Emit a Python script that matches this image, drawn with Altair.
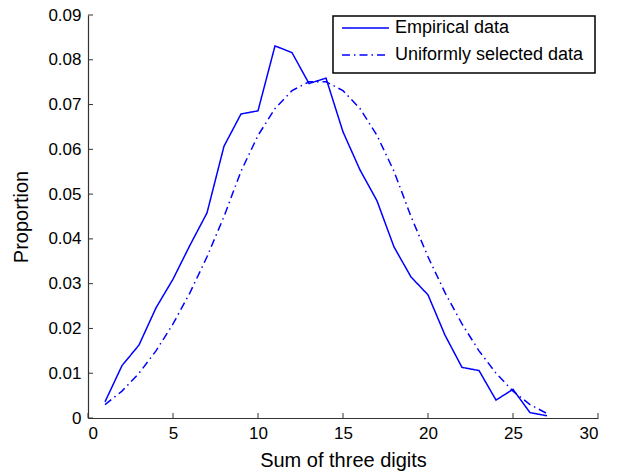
import altair as alt
import pandas as pd

# Sum of the three digits (1..27)
sums = list(range(1, 28))

# Observed proportions of each digit sum
empirical = [0.0036, 0.0117, 0.0163, 0.0246, 0.0310, 0.0386, 0.0458, 0.0607,
             0.0679, 0.0686, 0.0831, 0.0816, 0.0747, 0.0759, 0.0639, 0.0554,
             0.0485, 0.0382, 0.0315, 0.0275, 0.0185, 0.0113, 0.0106, 0.0040,
             0.0064, 0.0012, 0.0005]

# Proportions expected when the three digits are drawn uniformly
uniform = [0.0030, 0.0060, 0.0100, 0.0150, 0.0210, 0.0280, 0.0360, 0.0450,
           0.0551, 0.0631, 0.0691, 0.0731, 0.0751, 0.0751, 0.0731, 0.0691,
           0.0631, 0.0551, 0.0450, 0.0360, 0.0280, 0.0210, 0.0150, 0.0100,
           0.0060, 0.0030, 0.0010]

series_names = ["Empirical data", "Uniformly selected data"]
x_ticks = [0, 5, 10, 15, 20, 25, 30]
y_ticks = [0, 0.01, 0.02, 0.03, 0.04, 0.05, 0.06, 0.07, 0.08, 0.09]

df = pd.DataFrame({
    "sum": sums * 2,
    "proportion": empirical + uniform,
    "series": [series_names[0]] * len(sums) + [series_names[1]] * len(sums),
})

FONT = "Liberation Sans"
BLUE = "#0000ff"
AXIS_COLOR = "#333333"
W, H = 510, 403
DASHES = [[1, 0], [8, 4, 1.5, 4]]

x_scale = alt.Scale(domain=[0, 30], nice=False)
y_scale = alt.Scale(domain=[0, 0.09], nice=False)

lines = alt.Chart(df).mark_line(strokeWidth=1.5, color=BLUE).encode(
    x=alt.X("sum:Q", scale=x_scale,
            axis=alt.Axis(values=x_ticks, title="Sum of three digits", ticks=False,
                          grid=False, labelPadding=7, titlePadding=9)),
    y=alt.Y("proportion:Q", scale=y_scale,
            axis=alt.Axis(values=y_ticks, format="~f", title="Proportion", ticks=False,
                          grid=False, labelPadding=7, titlePadding=16)),
    strokeDash=alt.StrokeDash(
        "series:N",
        scale=alt.Scale(domain=series_names, range=DASHES),
        legend=None,
    ),
)

# Inward-pointing tick marks on both axes
xt = alt.Chart(pd.DataFrame({"t": x_ticks})).mark_rule(
    color=AXIS_COLOR, strokeWidth=1
).encode(x=alt.X("t:Q", scale=x_scale), y=alt.value(H), y2=alt.value(H - 5))

yt = alt.Chart(pd.DataFrame({"t": y_ticks})).mark_rule(
    color=AXIS_COLOR, strokeWidth=1
).encode(y=alt.Y("t:Q", scale=y_scale), x=alt.value(0), x2=alt.value(5))

# Boxed legend in the upper right corner
LX0, LX1, LY0, LY1 = 245, 507, 1, 58
ROW_Y = [13, 40]
legend_box = alt.Chart(pd.DataFrame({"k": [0]})).mark_rect(
    fill="white", stroke="black", strokeWidth=1.5
).encode(x=alt.value(LX0), x2=alt.value(LX1), y=alt.value(LY0), y2=alt.value(LY1))

legend_layers = [legend_box]
for name, dash, ry in zip(series_names, DASHES, ROW_Y):
    legend_layers.append(
        alt.Chart(pd.DataFrame({"k": [0]})).mark_rule(
            color=BLUE, strokeWidth=1.5, strokeDash=dash
        ).encode(x=alt.value(LX0 + 9), x2=alt.value(LX0 + 56), y=alt.value(ry))
    )
    legend_layers.append(
        alt.Chart(pd.DataFrame({"k": [0]})).mark_text(
            align="left", baseline="middle", font=FONT, fontSize=18, color="black"
        ).encode(x=alt.value(LX0 + 62), y=alt.value(ry), text=alt.value(name))
    )

chart = alt.layer(lines, xt, yt, *legend_layers).properties(
    width=W, height=H,
    autosize=alt.AutoSizeParams(type="none"),
    padding={"left": 88, "top": 15, "right": 19, "bottom": 57},
).configure_view(stroke=None).configure_axis(
    domainColor=AXIS_COLOR, domainWidth=1.2,
    labelFont=FONT, labelFontSize=17, labelColor="black",
    titleFont=FONT, titleFontSize=20, titleColor="black", titleFontWeight="normal",
)

chart.save("out.html", embed_options={"renderer": "svg", "actions": False})
